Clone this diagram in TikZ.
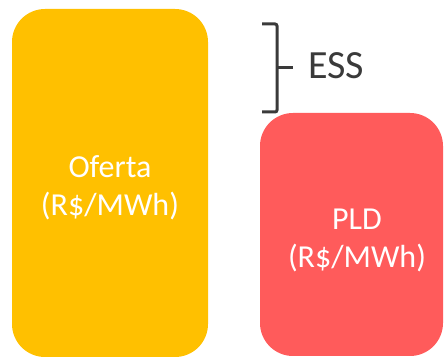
\documentclass[tikz,border=0pt]{standalone}
\usepackage{fontspec}
\setmainfont{Carlito}
\definecolor{oferta}{HTML}{FFC000}
\definecolor{pld}{HTML}{FF5B5B}
\definecolor{ink}{HTML}{3A3A3A}
\begin{document}
\begin{tikzpicture}[x=1pt,y=-1pt,
  block/.style={rounded corners=33pt},
  label/.style={text=white,font=\fontsize{32}{38}\selectfont,align=center},
  brace/.style={draw=ink,line width=3pt,rounded corners=2pt}]
\useasboundingbox (0,0) rectangle (445,358);
% price blocks
\fill[oferta,block] (12,9) rectangle (208,357);
\fill[pld,block] (260,113) rectangle (443,356);
\node[label] (oferta) at (110,188) {Oferta\\(R\$/MWh)};
\node[label] (pld) at (357,240) {PLD\\(R\$/MWh)};
% bracket marking the gap between the two prices
\coordinate (btop) at (262,24);
\coordinate (bbot) at (262,112);
\draw[brace] (btop) -- (277,24) -- (277,112) -- (bbot);
\draw[brace,rounded corners=0pt] (277,68) -- (293,68);
\node[anchor=west,text=ink,font=\fontsize{40}{44}\selectfont,inner sep=0pt] (ess) at (308,66) {ESS};
\end{tikzpicture}
\end{document}
